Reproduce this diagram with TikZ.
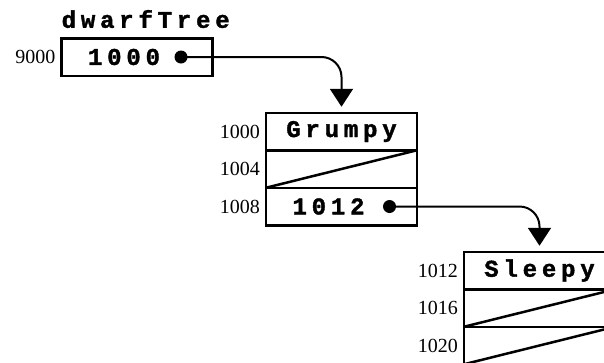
\documentclass[tikz,border=0pt]{standalone}
\usepackage{fontspec}
\setmainfont{Liberation Serif}
\newfontfamily\cellfont[LetterSpace=20, BoldFeatures={FakeBold=1.5}]{Liberation Mono}
\usetikzlibrary{arrows.meta, positioning}

\tikzset{
  cell/.style={draw, line width=2.5pt, minimum width=151pt, minimum height=37.5pt,
               inner sep=0pt, outer sep=0pt},
  val/.style={font=\cellfont\bfseries\fontsize{24}{28}\selectfont, inner sep=0pt},
  addr/.style={font=\fontsize{20}{24}\selectfont, inner sep=0pt},
  ptrdot/.style={circle, fill, minimum size=13pt, inner sep=0pt},
  ptr/.style={line width=2pt, rounded corners=20pt,
              -{Triangle[width=23pt,length=18pt]}, shorten >=6pt}
}

\begin{document}
\begin{tikzpicture}[x=1pt, y=-1pt]
  \useasboundingbox (0,0) rectangle (604,362);
  \clip (0,0) rectangle (604,362);

  % Pointer variable
  \node[cell] (root) at (137,57) {};
  \node[val, anchor=south west] (rootname) at ([yshift=10pt]root.north west) {dwarfTree};
  \node[addr, left=6pt of root] (rootaddr) {9000};
  \node[val] (rootval) at ([xshift=-13pt]root.center) {1000};
  \node[ptrdot] (rootdot) at ([xshift=44pt]root.center) {};

  % First node
  \node[cell, val] (g1) at (341.5,131.5) {Grumpy};
  \node[cell, below=0pt of g1] (g2) {};
  \node[cell, below=0pt of g2] (g3) {};
  \draw[line width=2.5pt] (g2.south west) -- (g2.north east);
  \node[val] (g3val) at ([xshift=-13pt]g3.center) {1012};
  \node[ptrdot] (g3dot) at ([xshift=48pt]g3.center) {};
  \node[addr, left=6pt of g1] (g1addr) {1000};
  \node[addr, left=6pt of g2] (g2addr) {1004};
  \node[addr, left=6pt of g3] (g3addr) {1008};

  % Second node
  \node[cell, val] (s1) at (539.5,270.5) {Sleepy};
  \node[cell, below=0pt of s1] (s2) {};
  \node[cell, below=0pt of s2] (s3) {};
  \draw[line width=2.5pt] (s2.south west) -- (s2.north east);
  \draw[line width=2.5pt] (s3.south west) -- (s3.north east);
  \node[addr, left=6pt of s1] (s1addr) {1012};
  \node[addr, left=6pt of s2] (s2addr) {1016};
  \node[addr, left=6pt of s3] (s3addr) {1020};

  % Pointers
  \draw[ptr] (rootdot.center) -| (g1.north);
  \draw[ptr] (g3dot.center) -| (s1.north);
\end{tikzpicture}
\end{document}
